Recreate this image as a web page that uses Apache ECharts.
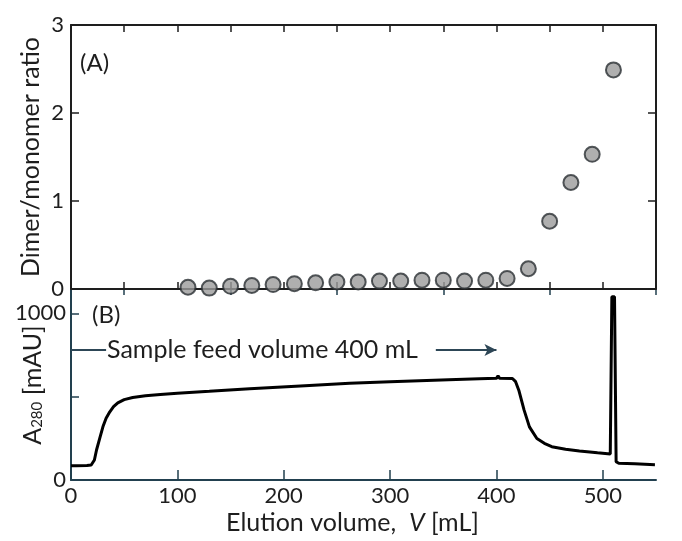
<!DOCTYPE html>
<html>
<head>
<meta charset="utf-8">
<script src="https://cdn.jsdelivr.net/npm/echarts@6/dist/echarts.min.js"></script>
<style>
  html, body { margin: 0; padding: 0; background: #fff; }
  #main { width: 682px; height: 541px; }
</style>
</head>
<body>
<div id="main"></div>
<script>
// Panel A: dimer/monomer ratio of collected fractions
const fractionVolume = [110, 130, 150, 170, 190, 210, 230, 250, 270, 290, 310, 330, 350, 370, 390, 410, 430, 450, 470, 490, 510];
const dimerRatio = [0.02, 0.01, 0.03, 0.04, 0.05, 0.06, 0.07, 0.08, 0.08, 0.09, 0.09, 0.1, 0.1, 0.09, 0.1, 0.12, 0.23, 0.77, 1.21, 1.53, 2.49];

// Panel B: A280 chromatogram trace
const traceVolume = [0, 5, 15, 19, 22, 24, 27, 30, 33, 36.5, 40, 44, 50, 58, 70, 84, 100, 130, 168, 220, 262, 300, 355, 384, 400, 401.5, 403, 415, 418, 421, 426, 431, 438, 445, 452, 465, 478, 495, 507, 508.5, 511, 512.5, 515, 530, 549];
const traceA280 = [85, 86, 87, 90, 120, 180, 250, 319, 370, 409, 440, 463, 482, 495, 505, 513, 520, 532, 548, 566, 580, 590, 602, 608, 610, 625, 610, 609, 590, 539, 419, 319, 249, 220, 200, 185, 174, 163, 156, 1100, 1100, 110, 100, 97, 92];

// Axis ticks
const volumeLabels = [0, 100, 200, 300, 400, 500];
const volumeMinor = [50, 150, 250, 350, 450, 550];
const a280Ticks = [500, 1000];
const a280Labels = [0, 1000];

// Sample feed arrow (mL at mAU level)
const feedLevel = 780;
const feedStart = [0, 33];
const feedEnd = [343, 400];

const FONT = 'Lato';
const ink = '#1e1e1e';
const axisB = '#22404f';

const chart = echarts.init(document.getElementById('main'));

const option = {
    backgroundColor: '#fff',
    animation: false,
    textStyle: { fontFamily: FONT },
    grid: [
        { left: 71, right: 26, top: 25, height: 264, outerBoundsMode: 'none', containLabel: false },
        { left: 71, right: 26, top: 290, height: 190, outerBoundsMode: 'none', containLabel: false }
    ],
    xAxis: [
        {
            gridIndex: 0, type: 'value', min: 0, max: 550, interval: 50,
            axisLine: { onZero: false, lineStyle: { color: ink, width: 2 } },
            axisTick: { inside: true, length: 7, lineStyle: { color: ink, width: 1.5 } },
            axisLabel: { show: false },
            splitLine: { show: false }
        },
        {
            gridIndex: 0, type: 'value', position: 'top', min: 0, max: 550, interval: 50,
            axisLine: { onZero: false, lineStyle: { color: ink, width: 2 } },
            axisTick: { inside: true, length: 7, lineStyle: { color: ink, width: 1.5 } },
            axisLabel: { show: false },
            splitLine: { show: false }
        },
        {
            gridIndex: 1, type: 'value', min: 0, max: 550,
            axisLine: { onZero: false, lineStyle: { color: axisB, width: 2 } },
            axisTick: { inside: true, length: 10, customValues: volumeLabels, lineStyle: { color: axisB, width: 1.5 } },
            axisLabel: { customValues: volumeLabels, color: ink, fontSize: 22, fontFamily: FONT, margin: 5 },
            splitLine: { show: false },
            name: '{t|Elution volume,  }{i|V}{t| [mL]}',
            nameLocation: 'middle',
            nameGap: 30,
            nameMoveOverlap: false,
            nameTextStyle: {
                padding: [0, 22, 0, 0],
                rich: {
                    t: { fontSize: 25, color: ink, fontFamily: FONT },
                    i: { fontSize: 25, color: ink, fontFamily: FONT, fontStyle: 'italic' }
                }
            }
        },
        {
            gridIndex: 1, type: 'value', min: 0, max: 550,
            axisLine: { show: false, onZero: false },
            axisTick: { inside: true, length: 5, customValues: volumeMinor, lineStyle: { color: axisB, width: 1.5 } },
            axisLabel: { show: false },
            splitLine: { show: false }
        }
    ],
    yAxis: [
        {
            gridIndex: 0, type: 'value', min: 0, max: 3, interval: 1,
            axisLine: { show: true, onZero: false, lineStyle: { color: ink, width: 2 } },
            axisTick: { inside: true, length: 8, lineStyle: { color: ink, width: 1.5 } },
            axisLabel: { color: ink, fontSize: 22, fontFamily: FONT, margin: 7 },
            splitLine: { show: false },
            name: 'Dimer/monomer ratio',
            nameLocation: 'middle',
            nameGap: 28,
            nameMoveOverlap: false,
            nameTextStyle: { fontSize: 25, color: ink, fontFamily: FONT }
        },
        {
            gridIndex: 0, type: 'value', position: 'right', min: 0, max: 3, interval: 1,
            axisLine: { show: true, onZero: false, lineStyle: { color: ink, width: 2 } },
            axisTick: { inside: true, length: 8, lineStyle: { color: ink, width: 1.5 } },
            axisLabel: { show: false },
            splitLine: { show: false }
        },
        {
            gridIndex: 1, type: 'value', min: 0, max: 1140,
            axisLine: { show: true, onZero: false, lineStyle: { color: axisB, width: 2 } },
            axisTick: { inside: true, length: 8, customValues: a280Ticks, lineStyle: { color: axisB, width: 1.5 } },
            axisLabel: { customValues: a280Labels, formatter: v => String(v), color: ink, fontSize: 22, fontFamily: FONT, margin: 5 },
            splitLine: { show: false },
            name: '{t|A}{s|280}{t| [mAU]}',
            nameLocation: 'middle',
            nameGap: 26,
            nameMoveOverlap: false,
            nameTextStyle: {
                rich: {
                    t: { fontSize: 25, color: ink, fontFamily: FONT },
                    s: { fontSize: 15, color: ink, fontFamily: FONT, padding: [9, 0, 0, 0] }
                }
            }
        }
    ],
    series: [
        {
            type: 'scatter',
            xAxisIndex: 0, yAxisIndex: 0,
            symbolSize: 15,
            itemStyle: { color: '#9b9b9b', borderColor: '#2b2f33', borderWidth: 2 },
            data: fractionVolume.map((v, i) => [v, dimerRatio[i]])
        },
        {
            type: 'line',
            xAxisIndex: 2, yAxisIndex: 2,
            showSymbol: false,
            lineStyle: { color: '#000', width: 3 },
            data: traceVolume.map((v, i) => [v, traceA280[i]]),
            markLine: {
                silent: true,
                symbol: ['none', 'none'],
                label: { show: false },
                lineStyle: { color: '#2d4656', width: 2, type: 'solid' },
                data: [
                    [{ coord: [feedStart[0], feedLevel] }, { coord: [feedStart[1], feedLevel] }],
                    [{ coord: [feedEnd[0], feedLevel] }, { coord: [feedEnd[1], feedLevel], symbol: 'arrow', symbolSize: [9, 12] }]
                ]
            }
        }
    ],
    graphic: [
        { type: 'text', x: 80, y: 63, style: { text: '(A)', fontSize: 24, fill: ink, fontFamily: FONT, verticalAlign: 'middle' } },
        { type: 'text', x: 92, y: 315, style: { text: '(B)', fontSize: 24, fill: ink, fontFamily: FONT, verticalAlign: 'middle' } },
        { type: 'text', x: 107, y: 350, style: { text: 'Sample feed volume 400 mL', fontSize: 25, fill: ink, fontFamily: FONT, verticalAlign: 'middle' } }
    ]
};

chart.setOption(option);
</script>
</body>
</html>
